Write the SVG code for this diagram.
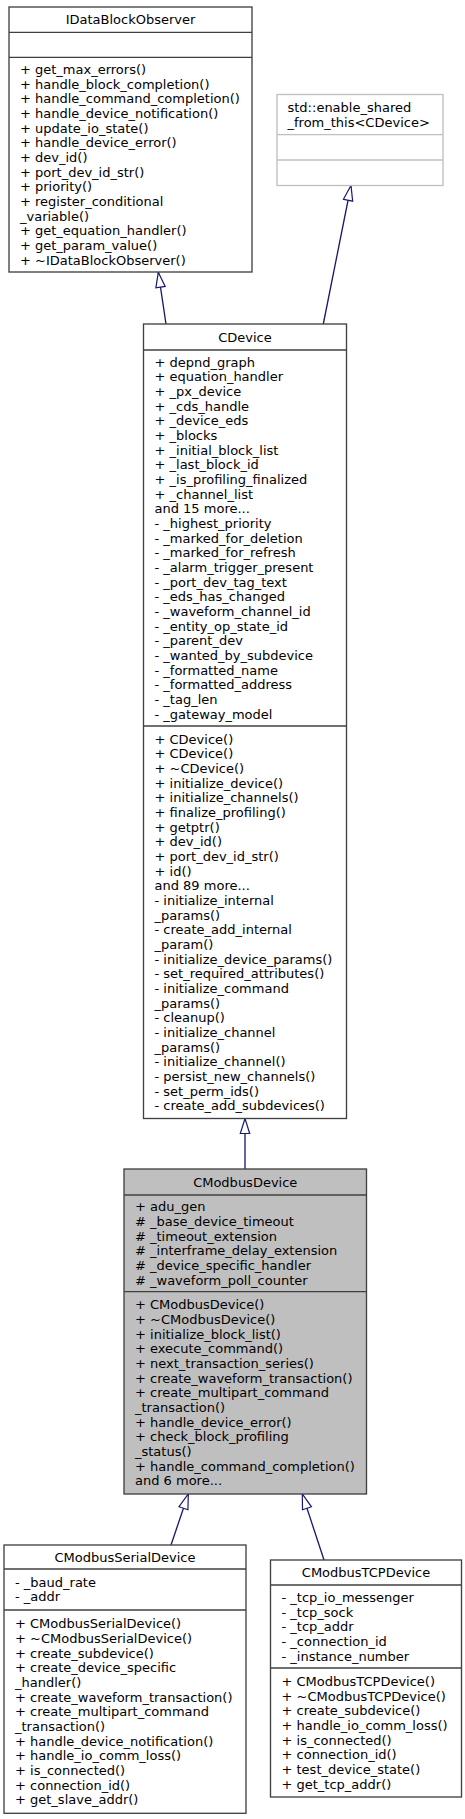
<svg xmlns="http://www.w3.org/2000/svg" width="465" height="1819" viewBox="0 0 465 1819">
<style>
.bg{fill:#ffffff}
.box{fill:#ffffff;stroke:#404040;stroke-width:1.33}
.main{fill:#bfbfbf;stroke:#404040;stroke-width:1.33}
.ext{fill:#ffffff;stroke:#bfbfbf;stroke-width:1.33}
.sep{stroke:#404040;stroke-width:1.33}
.sepx{stroke:#bfbfbf;stroke-width:1.33}
text{font-family:"DejaVu Sans","Liberation Sans",sans-serif;font-size:13px;fill:#000000}
.t{text-anchor:middle}
.edge{fill:none;stroke:#191970;stroke-width:1.33}
</style>
<defs>
<marker id="inh" viewBox="-1 -1 17 12" refX="15" refY="5" markerWidth="17" markerHeight="12" markerUnits="userSpaceOnUse" orient="auto">
<path d="M0,0.3 L15,5 L0,9.7 Z" fill="#ffffff" stroke="#191970" stroke-width="1.2"/>
</marker>
</defs>
<rect class="bg" x="0" y="0" width="465" height="1819"/>

<g id="connectors">
<path class="edge" d="M166,324 L158.3,272.3" marker-end="url(#inh)"/>
<path class="edge" d="M323.3,324 L351,185.5" marker-end="url(#inh)"/>
<path class="edge" d="M245,1169 L245,1118.5" marker-end="url(#inh)"/>
<path class="edge" d="M171,1545 L188.3,1494" marker-end="url(#inh)"/>
<path class="edge" d="M324,1560 L302.3,1494" marker-end="url(#inh)"/>
</g>

<g id="IDataBlockObserver">
<rect class="box" x="9" y="7" width="243" height="265"/>
<line class="sep" x1="9" y1="32.3" x2="252" y2="32.3"/>
<line class="sep" x1="9" y1="57.3" x2="252" y2="57.3"/>
<text class="t" x="130.5" y="24.3">IDataBlockObserver</text>
<text x="20" y="73.9">+ get_max_errors()</text>
<text x="20" y="88.6">+ handle_block_completion()</text>
<text x="20" y="103.2">+ handle_command_completion()</text>
<text x="20" y="117.9">+ handle_device_notification()</text>
<text x="20" y="132.6">+ update_io_state()</text>
<text x="20" y="147.3">+ handle_device_error()</text>
<text x="20" y="161.9">+ dev_id()</text>
<text x="20" y="176.6">+ port_dev_id_str()</text>
<text x="20" y="191.3">+ priority()</text>
<text x="20" y="205.9">+ register_conditional</text>
<text x="20" y="220.6">_variable()</text>
<text x="20" y="235.3">+ get_equation_handler()</text>
<text x="20" y="250">+ get_param_value()</text>
<text x="20" y="264.6">+ ~IDataBlockObserver()</text>
</g>

<g id="enable_shared_from_this">
<rect class="ext" x="277" y="94.5" width="166" height="91"/>
<line class="sepx" x1="277" y1="134.7" x2="443" y2="134.7"/>
<line class="sepx" x1="277" y1="160" x2="443" y2="160"/>
<text x="287.5" y="111.9">std::enable_shared</text>
<text x="287.5" y="126.5">_from_this&lt;CDevice&gt;</text>
</g>

<g id="CDevice">
<rect class="box" x="143.5" y="324" width="203" height="794.5"/>
<line class="sep" x1="143.5" y1="350" x2="346.5" y2="350"/>
<line class="sep" x1="143.5" y1="726" x2="346.5" y2="726"/>
<text class="t" x="245" y="341.6">CDevice</text>
<text x="154.5" y="366.6">+ depnd_graph</text>
<text x="154.5" y="381.3">+ equation_handler</text>
<text x="154.5" y="395.9">+ _px_device</text>
<text x="154.5" y="410.6">+ _cds_handle</text>
<text x="154.5" y="425.3">+ _device_eds</text>
<text x="154.5" y="439.9">+ _blocks</text>
<text x="154.5" y="454.6">+ _initial_block_list</text>
<text x="154.5" y="469.3">+ _last_block_id</text>
<text x="154.5" y="484">+ _is_profiling_finalized</text>
<text x="154.5" y="498.6">+ _channel_list</text>
<text x="154.5" y="513.3">and 15 more...</text>
<text x="154.5" y="528">- _highest_priority</text>
<text x="154.5" y="542.6">- _marked_for_deletion</text>
<text x="154.5" y="557.3">- _marked_for_refresh</text>
<text x="154.5" y="572">- _alarm_trigger_present</text>
<text x="154.5" y="586.7">- _port_dev_tag_text</text>
<text x="154.5" y="601.3">- _eds_has_changed</text>
<text x="154.5" y="616">- _waveform_channel_id</text>
<text x="154.5" y="630.7">- _entity_op_state_id</text>
<text x="154.5" y="645.3">- _parent_dev</text>
<text x="154.5" y="660">- _wanted_by_subdevice</text>
<text x="154.5" y="674.7">- _formatted_name</text>
<text x="154.5" y="689.4">- _formatted_address</text>
<text x="154.5" y="704">- _tag_len</text>
<text x="154.5" y="718.7">- _gateway_model</text>
<text x="154.5" y="743.5">+ CDevice()</text>
<text x="154.5" y="758.2">+ CDevice()</text>
<text x="154.5" y="772.8">+ ~CDevice()</text>
<text x="154.5" y="787.5">+ initialize_device()</text>
<text x="154.5" y="802.2">+ initialize_channels()</text>
<text x="154.5" y="816.9">+ finalize_profiling()</text>
<text x="154.5" y="831.5">+ getptr()</text>
<text x="154.5" y="846.2">+ dev_id()</text>
<text x="154.5" y="860.9">+ port_dev_id_str()</text>
<text x="154.5" y="875.5">+ id()</text>
<text x="154.5" y="890.2">and 89 more...</text>
<text x="154.5" y="904.9">- initialize_internal</text>
<text x="154.5" y="919.5">_params()</text>
<text x="154.5" y="934.2">- create_add_internal</text>
<text x="154.5" y="948.9">_param()</text>
<text x="154.5" y="963.6">- initialize_device_params()</text>
<text x="154.5" y="978.2">- set_required_attributes()</text>
<text x="154.5" y="992.9">- initialize_command</text>
<text x="154.5" y="1007.6">_params()</text>
<text x="154.5" y="1022.2">- cleanup()</text>
<text x="154.5" y="1036.9">- initialize_channel</text>
<text x="154.5" y="1051.6">_params()</text>
<text x="154.5" y="1066.2">- initialize_channel()</text>
<text x="154.5" y="1080.9">- persist_new_channels()</text>
<text x="154.5" y="1095.6">- set_perm_ids()</text>
<text x="154.5" y="1110.3">- create_add_subdevices()</text>
</g>

<g id="CModbusDevice">
<rect class="main" x="124" y="1169" width="242.5" height="325"/>
<line class="sep" x1="124" y1="1195" x2="366.5" y2="1195"/>
<line class="sep" x1="124" y1="1291.7" x2="366.5" y2="1291.7"/>
<text class="t" x="245.25" y="1186.6">CModbusDevice</text>
<text x="135" y="1211.3">+ adu_gen</text>
<text x="135" y="1226">#  _base_device_timeout</text>
<text x="135" y="1240.6">#  _timeout_extension</text>
<text x="135" y="1255.3">#  _interframe_delay_extension</text>
<text x="135" y="1270">#  _device_specific_handler</text>
<text x="135" y="1284.7">#  _waveform_poll_counter</text>
<text x="135" y="1309.4">+ CModbusDevice()</text>
<text x="135" y="1324.1">+ ~CModbusDevice()</text>
<text x="135" y="1338.7">+ initialize_block_list()</text>
<text x="135" y="1353.4">+ execute_command()</text>
<text x="135" y="1368.1">+ next_transaction_series()</text>
<text x="135" y="1382.8">+ create_waveform_transaction()</text>
<text x="135" y="1397.4">+ create_multipart_command</text>
<text x="135" y="1412.1">_transaction()</text>
<text x="135" y="1426.8">+ handle_device_error()</text>
<text x="135" y="1441.4">+ check_block_profiling</text>
<text x="135" y="1456.1">_status()</text>
<text x="135" y="1470.8">+ handle_command_completion()</text>
<text x="135" y="1485.4">and 6 more...</text>
</g>

<g id="CModbusSerialDevice">
<rect class="box" x="4" y="1545" width="242" height="268.3"/>
<line class="sep" x1="4" y1="1569" x2="246" y2="1569"/>
<line class="sep" x1="4" y1="1610" x2="246" y2="1610"/>
<text class="t" x="125" y="1561.6">CModbusSerialDevice</text>
<text x="15" y="1586.8">- _baud_rate</text>
<text x="15" y="1601.4">- _addr</text>
<text x="15" y="1628.2">+ CModbusSerialDevice()</text>
<text x="15" y="1642.9">+ ~CModbusSerialDevice()</text>
<text x="15" y="1657.5">+ create_subdevice()</text>
<text x="15" y="1672.2">+ create_device_specific</text>
<text x="15" y="1686.9">_handler()</text>
<text x="15" y="1701.5">+ create_waveform_transaction()</text>
<text x="15" y="1716.2">+ create_multipart_command</text>
<text x="15" y="1730.9">_transaction()</text>
<text x="15" y="1745.6">+ handle_device_notification()</text>
<text x="15" y="1760.2">+ handle_io_comm_loss()</text>
<text x="15" y="1774.9">+ is_connected()</text>
<text x="15" y="1789.6">+ connection_id()</text>
<text x="15" y="1804.2">+ get_slave_addr()</text>
</g>

<g id="CModbusTCPDevice">
<rect class="box" x="270.5" y="1560" width="191" height="237"/>
<line class="sep" x1="270.5" y1="1585" x2="461.5" y2="1585"/>
<line class="sep" x1="270.5" y1="1668" x2="461.5" y2="1668"/>
<text class="t" x="366" y="1577.1">CModbusTCPDevice</text>
<text x="281.5" y="1601.8">- _tcp_io_messenger</text>
<text x="281.5" y="1616.5">- _tcp_sock</text>
<text x="281.5" y="1631.2">- _tcp_addr</text>
<text x="281.5" y="1645.8">- _connection_id</text>
<text x="281.5" y="1660.5">- _instance_number</text>
<text x="281.5" y="1685.8">+ CModbusTCPDevice()</text>
<text x="281.5" y="1700.5">+ ~CModbusTCPDevice()</text>
<text x="281.5" y="1715.1">+ create_subdevice()</text>
<text x="281.5" y="1729.8">+ handle_io_comm_loss()</text>
<text x="281.5" y="1744.5">+ is_connected()</text>
<text x="281.5" y="1759.1">+ connection_id()</text>
<text x="281.5" y="1773.8">+ test_device_state()</text>
<text x="281.5" y="1788.5">+ get_tcp_addr()</text>
</g>
</svg>
